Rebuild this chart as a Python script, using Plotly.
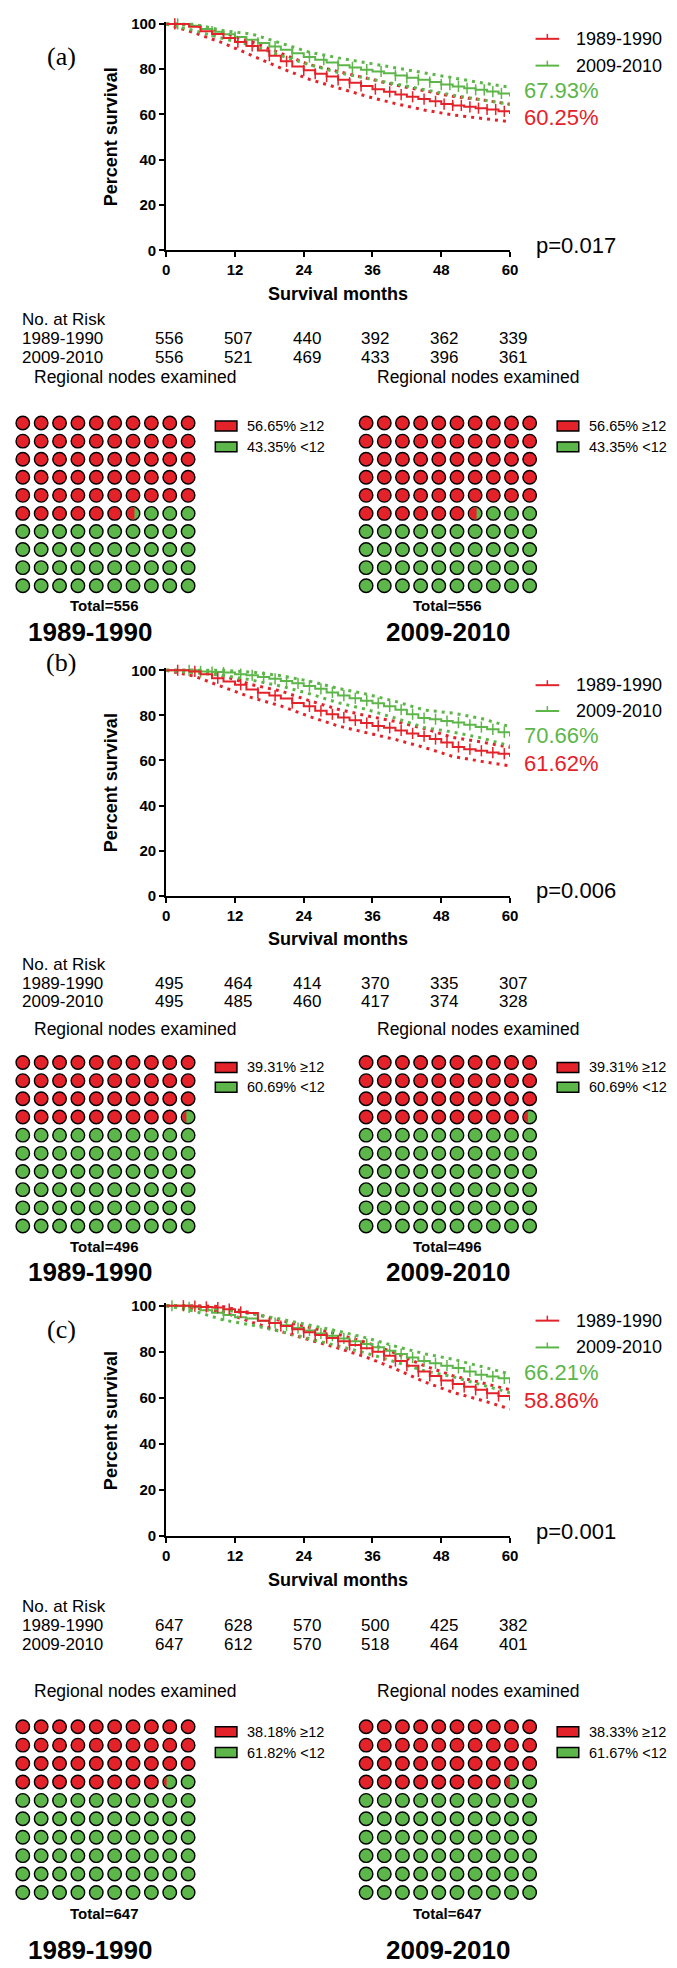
import numpy as np
import plotly.graph_objects as go

W, H = 677, 1968
RED = "#E3222A"
GREEN = "#5CB649"
FONT = "Liberation Sans, Arial, sans-serif"
SERIF = "Liberation Serif, Times New Roman, serif"

# ---------------- data ----------------
GROUPS = ["1989-1990", "2009-2010"]
PANEL_LABELS = ["(a)", "(b)", "(c)"]
P_VALUES = ["p=0.017", "p=0.006", "p=0.001"]
SURV60_RED = [60.25, 61.62, 58.86]
SURV60_GREEN = [67.93, 70.66, 66.21]

MONTHS = list(range(0, 61, 2))
CI_MONTHS = list(range(0, 61, 5))
X_TICKS = [0, 12, 24, 36, 48, 60]
Y_TICKS = [0, 20, 40, 60, 80, 100]

A_RED = [100, 100, 98.8, 96.8, 95.5, 93.8, 92.0, 90.3, 88.3, 86.0, 83.5, 81.2, 79.5, 78.0, 76.8, 75.3,
         74.0, 72.6, 71.2, 70.0, 68.8, 67.8, 66.8, 65.8, 64.6, 64.0, 63.4, 62.8, 62.2, 61.4, 60.25]
A_GRN = [100, 100, 99.2, 97.8, 96.6, 95.4, 94.2, 93.0, 91.6, 90.0, 88.6, 87.0, 85.4, 84.2, 83.0, 81.8,
         80.8, 79.8, 79.0, 78.2, 77.2, 76.2, 75.3, 74.3, 73.2, 72.4, 71.6, 70.9, 70.1, 69.3, 67.93]
B_RED = [100, 100, 99.5, 98.2, 96.5, 95.0, 93.6, 91.5, 90.0, 88.8, 87.5, 85.5, 84.0, 82.0, 80.5, 79.0,
         77.8, 76.6, 75.3, 74.5, 73.3, 72.0, 70.8, 69.5, 68.0, 66.0, 65.0, 64.3, 63.5, 63.0, 61.62]
B_GRN = [100, 100, 100, 99.5, 99.2, 99.0, 98.3, 97.8, 97.0, 96.2, 95.3, 94.2, 93.0, 91.8, 90.2, 88.8,
         87.6, 86.5, 85.4, 84.0, 82.5, 80.5, 78.8, 78.3, 77.5, 76.8, 75.8, 74.8, 73.8, 72.5, 70.66]
C_RED = [100, 100, 99.8, 99.5, 99.2, 98.5, 97.3, 96.8, 93.5, 92.5, 91.2, 89.8, 88.5, 87.3, 86.0, 84.6,
         83.0, 81.5, 80.0, 78.3, 76.0, 74.0, 71.5, 69.5, 67.5, 66.0, 64.8, 63.5, 62.0, 60.8, 58.86]
C_GRN = [100, 100, 99.3, 98.0, 97.0, 96.0, 95.0, 94.5, 93.5, 92.5, 91.5, 90.3, 89.2, 88.0, 87.0, 85.8,
         84.6, 83.4, 82.0, 80.5, 79.0, 77.5, 76.0, 75.0, 74.0, 73.0, 71.5, 70.0, 69.3, 68.5, 66.21]

A_RED_LO = [100, 96.0, 91.5, 86.0, 80.5, 75.5, 71.8, 68.0, 64.8, 62.0, 59.8, 58.2, 56.8]
A_RED_HI = [100, 99.5, 96.0, 92.0, 87.0, 82.0, 79.0, 76.0, 73.0, 70.5, 68.0, 66.5, 64.5]
A_GRN_LO = [100, 97.0, 93.5, 90.5, 86.0, 82.0, 78.5, 76.0, 73.5, 71.0, 68.5, 66.5, 64.5]
A_GRN_HI = [100, 99.8, 97.0, 95.5, 91.5, 87.5, 85.0, 82.8, 80.5, 78.5, 76.0, 74.0, 72.0]
B_RED_LO = [100, 97.3, 92.5, 87.8, 84.2, 79.5, 75.3, 72.2, 69.3, 65.8, 61.8, 59.6, 57.6]
B_RED_HI = [100, 100, 97.4, 93.6, 90.8, 86.5, 82.7, 79.8, 77.3, 74.2, 70.2, 68.2, 65.8]
B_GRN_LO = [100, 99.0, 97.8, 95.6, 93.0, 89.6, 85.6, 82.6, 78.8, 74.6, 72.6, 70.0, 66.4]
B_GRN_HI = [100, 100, 100, 99.2, 97.6, 95.2, 92.0, 89.4, 86.2, 82.4, 81.0, 78.6, 75.0]
C_RED_LO = [100, 99.0, 97.2, 92.8, 88.8, 85.2, 81.6, 77.6, 72.6, 67.0, 62.4, 59.0, 55.2]
C_RED_HI = [100, 100, 99.6, 96.8, 93.6, 90.6, 87.6, 84.0, 79.4, 74.0, 69.6, 66.6, 63.5]
C_GRN_LO = [100, 97.6, 93.8, 91.6, 88.8, 85.6, 82.6, 79.4, 75.6, 71.8, 69.2, 65.8, 62.2]
C_GRN_HI = [100, 99.8, 98.2, 96.4, 94.2, 91.6, 89.0, 86.0, 82.4, 79.2, 76.8, 73.6, 70.4]

A_RED_CENS = [1.5, 12.5, 15, 18, 21, 24, 26, 28, 30, 32, 34, 36.5, 39, 41, 43, 45, 47, 48.5, 50, 51.5, 53, 54.5, 56, 57.5, 59]
A_GRN_CENS = [2, 8, 12, 16, 19, 22, 25, 27.5, 30, 32.5, 35, 37.5, 40, 42, 44, 46, 48, 49.5, 51, 52.5, 54, 55.5, 57, 58.5]
B_RED_CENS = [2, 5, 9, 13, 16, 19, 22, 25, 27, 29, 31, 33, 35, 37, 39, 41, 43, 45, 47, 49, 51, 53, 55, 57, 59]
B_GRN_CENS = [4, 6, 8, 10, 13, 15, 17, 19, 21, 23, 25, 27, 29, 31, 33, 35, 37, 39, 41, 43, 45, 47, 49, 51, 53, 55, 57, 59]
C_RED_CENS = [3, 5, 7, 9, 11, 13, 18, 20, 22, 24, 26, 28, 30, 32, 34, 36, 38, 40, 42, 44, 46, 48, 50, 52, 54, 56, 58]
C_GRN_CENS = [1, 4, 10, 19, 21, 23, 25, 27, 29, 31, 33, 35, 37, 39, 41, 43, 45, 47, 49, 51, 53, 55, 57, 59]

RISK_A_RED = [556, 507, 440, 392, 362, 339]
RISK_A_GRN = [556, 521, 469, 433, 396, 361]
RISK_B_RED = [495, 464, 414, 370, 335, 307]
RISK_B_GRN = [495, 485, 460, 417, 374, 328]
RISK_C_RED = [647, 628, 570, 500, 425, 382]
RISK_C_GRN = [647, 612, 570, 518, 464, 401]

NODES_GE12 = [[56.65, 56.65], [39.31, 39.31], [38.18, 38.33]]
NODES_LT12 = [[43.35, 43.35], [60.69, 60.69], [61.82, 61.67]]
TOTALS = [556, 496, 647]

SURV = [(A_RED, A_GRN), (B_RED, B_GRN), (C_RED, C_GRN)]
CI = [((A_RED_LO, A_RED_HI), (A_GRN_LO, A_GRN_HI)),
      ((B_RED_LO, B_RED_HI), (B_GRN_LO, B_GRN_HI)),
      ((C_RED_LO, C_RED_HI), (C_GRN_LO, C_GRN_HI))]
CENS = [(A_RED_CENS, A_GRN_CENS), (B_RED_CENS, B_GRN_CENS), (C_RED_CENS, C_GRN_CENS)]
RISK = [(RISK_A_RED, RISK_A_GRN), (RISK_B_RED, RISK_B_GRN), (RISK_C_RED, RISK_C_GRN)]

# ---------------- layout positions (pixels) ----------------
X0, X60 = 157, 507
Y100 = [10, 661, 1301]
Y0 = [238, 888, 1533]
LABEL_Y = [43, 653, 1325]
LEG_Y = [(25, 52), (676, 702), (1316, 1343)]
PCT_Y = [(77, 104), (727, 755), (1368, 1396)]
PV_Y = [233, 883, 1528]
SM_Y = [282, 932, 1577]
NAR_Y = [308, 957, 1604]
ROW_DY = 19
REG_Y = [366, 1022, 1689]
WAF_Y0 = [412, 1056, 1725]
WAF_DY = [18.2, 18.3, 18.55]
WAF_X0 = [11, 360.5]
WAF_DX = [18.7, 18.5]
WLEG_Y = [(415, 436), (1061, 1081), (1730, 1751)]
WLEG_BOX_X = [(207, 229), (555, 577)]
WLEG_TXT_X = [237, 585]
TOTAL_Y = [596, 1241, 1913]
TOTAL_X = [94, 443]
YEAR_Y = [622, 1267, 1950]
YEAR_X = [79, 444]
REG_X = [20, 370]


def PX(x):
    return x / W


def PY(y):
    return 1 - y / H


fig = go.Figure()
shapes = []
annotations = []
layout_axes = {}


def ann(text, x, y, size, color="black", family=FONT, weight="normal", xanchor="left", angle=0):
    annotations.append(dict(text=text, x=PX(x), y=PY(y), xref="paper", yref="paper",
                            xanchor=xanchor, yanchor="middle", showarrow=False, textangle=angle,
                            font=dict(size=size, color=color, family=family, weight=weight)))


def step_value(times, values, t):
    i = int(np.searchsorted(times, t, side="right")) - 1
    return values[max(i, 0)]


# chord position for a circle whose left part covers a given area fraction
_U = np.linspace(-1, 1, 4001)
_F = 1 - (np.arccos(_U) - _U * np.sqrt(1 - _U ** 2)) / np.pi


def chord_for_fraction(frac):
    return float(np.interp(frac, _F, _U))


COLORS = [RED, GREEN]

for p in range(3):
    n = p + 1
    xk = "xaxis" if n == 1 else f"xaxis{n}"
    yk = "yaxis" if n == 1 else f"yaxis{n}"
    xr = "x" if n == 1 else f"x{n}"
    yr = "y" if n == 1 else f"y{n}"
    ytop_px = Y0[p] - (Y0[p] - Y100[p]) * 101 / 100
    layout_axes[xk] = dict(domain=[PX(X0), PX(X60)], range=[0, 60], anchor=yr, tickvals=X_TICKS,
                           ticks="outside", ticklen=5, tickwidth=2, tickcolor="black",
                           showline=True, linewidth=2, linecolor="black", showgrid=False,
                           zeroline=False, fixedrange=True,
                           tickfont=dict(size=15, family=FONT, weight="bold", color="black"))
    layout_axes[yk] = dict(domain=[PY(Y0[p]), PY(ytop_px)], range=[0, 101], anchor=xr, tickvals=Y_TICKS,
                           ticks="outside", ticklen=5, tickwidth=2, tickcolor="black",
                           showline=True, linewidth=2, linecolor="black", showgrid=False,
                           zeroline=False, fixedrange=True,
                           tickfont=dict(size=15, family=FONT, weight="bold", color="black"))
    # confidence bands (dotted)
    for g in range(2):
        for band in CI[p][g]:
            fig.add_trace(go.Scatter(x=CI_MONTHS, y=band, mode="lines", xaxis=xr, yaxis=yr,
                                     line=dict(color=COLORS[g], width=3, dash="3px,5px"),
                                     showlegend=False, hoverinfo="skip"))
    # survival curves
    for g in [1, 0]:
        fig.add_trace(go.Scatter(x=MONTHS, y=SURV[p][g], mode="lines", line_shape="hv", xaxis=xr, yaxis=yr,
                                 line=dict(color=COLORS[g], width=2), showlegend=False, hoverinfo="skip"))
        cy = [step_value(MONTHS, SURV[p][g], t) for t in CENS[p][g]]
        fig.add_trace(go.Scatter(x=CENS[p][g], y=cy, mode="markers", xaxis=xr, yaxis=yr, cliponaxis=False,
                                 marker=dict(symbol="line-ns", size=8, line=dict(color=COLORS[g], width=1.5)),
                                 showlegend=False, hoverinfo="skip"))

    # annotations for KM panel
    ann(PANEL_LABELS[p], 50, LABEL_Y[p], 26, family=SERIF, xanchor="center")
    ann("Percent survival", 101, (Y0[p] + Y100[p]) / 2, 18, weight="bold", xanchor="center", angle=-90)
    ann("Survival months", (X0 + X60) / 2, SM_Y[p], 18, weight="bold", xanchor="center")
    for g in range(2):
        ly = LEG_Y[p][g]
        shapes.append(dict(type="line", xref="paper", yref="paper", x0=PX(533), x1=PX(557), y0=PY(ly), y1=PY(ly),
                           line=dict(color=COLORS[g], width=2)))
        shapes.append(dict(type="line", xref="paper", yref="paper", x0=PX(545), x1=PX(545), y0=PY(ly), y1=PY(ly - 5),
                           line=dict(color=COLORS[g], width=1.5)))
        ann(GROUPS[g], 572, ly, 18)
    ann(f"{SURV60_GREEN[p]:.2f}%", 519, PCT_Y[p][0], 22, color=GREEN)
    ann(f"{SURV60_RED[p]:.2f}%", 519, PCT_Y[p][1], 22, color=RED)
    ann(P_VALUES[p], 531, PV_Y[p], 22)

    # number at risk table
    ann("No. at Risk", 8, NAR_Y[p], 17)
    for g in range(2):
        ry = NAR_Y[p] + ROW_DY * (g + 1)
        ann(GROUPS[g], 8, ry, 17)
        for k, v in enumerate(RISK[p][g]):
            tx = X0 + (X60 - X0) * X_TICKS[k] / 60 + 3
            ann(str(v), tx, ry, 17, xanchor="center")

    # waffles
    for s in range(2):
        wn = 4 + p * 2 + s
        wxr, wyr = f"x{wn}", f"y{wn}"
        cx0, dx = WAF_X0[s], WAF_DX[s]
        cy0, dy = WAF_Y0[p], WAF_DY[p]
        layout_axes[f"xaxis{wn}"] = dict(domain=[PX(cx0 - dx / 2), PX(cx0 + 9.5 * dx)], range=[-0.5, 9.5],
                                         anchor=wyr, visible=False, fixedrange=True)
        layout_axes[f"yaxis{wn}"] = dict(domain=[PY(cy0 + 9.5 * dy), PY(cy0 - dy / 2)], range=[9.5, -0.5],
                                         anchor=wxr, visible=False, fixedrange=True)
        pct = NODES_GE12[p][s]
        n_full = int(np.floor(pct))
        frac = pct - n_full
        cols = [k % 10 for k in range(100)]
        rows = [k // 10 for k in range(100)]
        red_idx = list(range(n_full))
        grn_idx = list(range(n_full, 100))
        for idx, col in ((red_idx, RED), (grn_idx, GREEN)):
            fig.add_trace(go.Scatter(x=[cols[k] for k in idx], y=[rows[k] for k in idx], mode="markers",
                                     xaxis=wxr, yaxis=wyr, cliponaxis=False,
                                     marker=dict(symbol="circle", size=13.5, color=col,
                                                 line=dict(color="black", width=1.4)),
                                     showlegend=False, hoverinfo="skip"))
        if frac > 0.005:
            r = 6.0
            c = chord_for_fraction(frac) * r
            phi = np.arccos(np.clip(c / r, -1, 1))
            angs = np.linspace(phi, 2 * np.pi - phi, 40)
            path = "M " + " L ".join(f"{r*np.cos(a):.2f},{r*np.sin(a):.2f}" for a in angs) + " Z"
            shapes.append(dict(type="path", xref=wxr, yref=wyr, xsizemode="pixel", ysizemode="pixel",
                               xanchor=cols[n_full], yanchor=rows[n_full], path=path,
                               fillcolor=RED, line=dict(width=0), layer="above"))
        # waffle legend
        labels = [f"{NODES_GE12[p][s]:.2f}% \u226512", f"{NODES_LT12[p][s]:.2f}% &lt;12"]
        for j, colr in enumerate([RED, GREEN]):
            ly = WLEG_Y[p][j]
            bx0, bx1 = WLEG_BOX_X[s]
            shapes.append(dict(type="rect", xref="paper", yref="paper", x0=PX(bx0), x1=PX(bx1),
                               y0=PY(ly + 5), y1=PY(ly - 5), fillcolor=colr,
                               line=dict(color="black", width=1.5)))
            ann(labels[j], WLEG_TXT_X[s], ly, 14.5)
        ann("Regional nodes examined", REG_X[s], REG_Y[p], 17.5)
        ann(f"Total={TOTALS[p]}", TOTAL_X[s], TOTAL_Y[p], 15, weight="bold", xanchor="center")
        ann(GROUPS[s], YEAR_X[s], YEAR_Y[p], 26, weight="bold", xanchor="center")

fig.update_layout(width=W, height=H, autosize=False, margin=dict(l=0, r=0, t=0, b=0),
                  paper_bgcolor="white", plot_bgcolor="white", showlegend=False,
                  shapes=shapes, annotations=annotations, **layout_axes)

fig.write_html("out.html")
